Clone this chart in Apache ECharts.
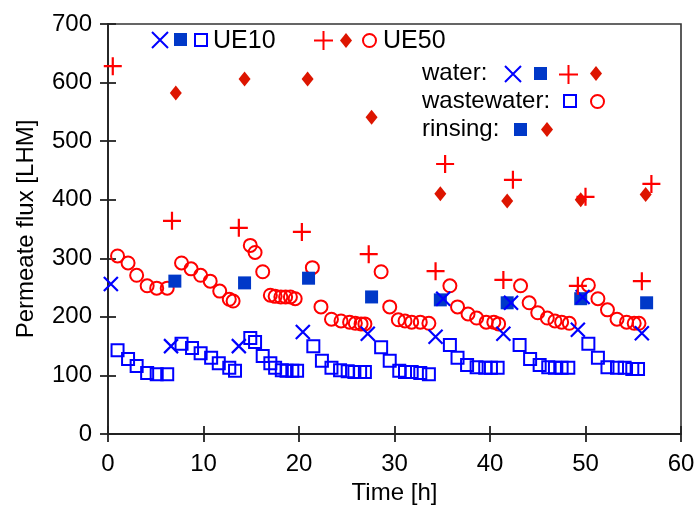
<!DOCTYPE html>
<html><head><meta charset="utf-8">
<script src="https://cdn.jsdelivr.net/npm/echarts@6/dist/echarts.min.js"></script>
<style>html,body{margin:0;padding:0;background:#fff}#c{width:695px;height:505px}</style>
</head><body><div id="c"></div>
<script>
// ---- data ----
var xTicks = [0, 10, 20, 30, 40, 50, 60];
var yTicks = [0, 100, 200, 300, 400, 500, 600, 700];

// UE10 water (x marks)
var ue10WaterT = [0.3, 6.6, 13.7, 20.4, 27.2, 34.3, 35.1, 41.4, 42.2, 49.2, 49.7, 55.9];
var ue10WaterF = [256, 150, 150, 174, 171, 166, 231, 171, 224, 178, 234, 172];
// UE10 rinsing (filled squares)
var ue10RinseT = [7.0, 14.3, 21.0, 27.6, 34.8, 41.8, 49.5, 56.4];
var ue10RinseF = [261, 258, 266, 234, 229, 224, 231, 224];
// UE10 wastewater (open squares)
var ue10WasteT = [1.0, 2.1, 3.0, 4.1, 5.1, 6.2,
  7.7, 8.8, 9.7, 10.8, 11.6, 12.7, 13.3,
  14.9, 15.4, 16.2, 17.0, 17.5, 18.2, 18.7, 19.3, 19.8,
  21.5, 22.4, 23.4, 24.3, 25.1, 25.8, 26.4, 26.9,
  28.6, 29.5, 30.5, 31.1, 31.8, 32.7, 33.6,
  35.8, 36.6, 37.6, 38.6, 39.5, 40.1, 40.8,
  43.1, 44.2, 45.2, 46.1, 46.8, 47.5, 48.2,
  50.3, 51.3, 52.3, 53.3, 54.1, 54.9, 55.5];
var ue10WasteF = [143, 128, 116, 104, 102, 102,
  154, 147, 138, 130, 121, 113, 108,
  164, 157, 133, 121, 113, 109, 108, 108, 108,
  150, 125, 113, 109, 107, 106, 106, 106,
  148, 125, 108, 106, 106, 104, 102,
  152, 130, 118, 114, 113, 113, 113,
  152, 128, 118, 114, 113, 113, 113,
  154, 130, 114, 113, 113, 111, 111];

// UE50 water (plus marks)
var ue50WaterT = [0.5, 6.7, 13.7, 20.3, 27.3, 34.3, 35.3, 41.4, 42.4, 49.2, 50.0, 55.9, 56.9];
var ue50WaterF = [628, 364, 352, 345, 307, 278, 461, 263, 434, 253, 405, 261, 427];
// UE50 rinsing (diamonds)
var ue50RinseT = [7.1, 14.3, 20.9, 27.6, 34.8, 41.8, 49.5, 56.3];
var ue50RinseF = [582, 606, 606, 541, 410, 398, 400, 409];
// UE50 wastewater (open circles)
var ue50WasteT = [1.0, 2.1, 3.0, 4.1, 5.1, 6.2,
  7.7, 8.7, 9.7, 10.7, 11.7, 12.7, 13.1,
  14.9, 15.4, 16.2, 17.0, 17.5, 18.1, 18.6, 19.1, 19.6,
  21.4, 22.3, 23.4, 24.4, 25.3, 25.9, 26.5, 26.9,
  28.6, 29.5, 30.4, 31.1, 31.8, 32.7, 33.6,
  35.8, 36.6, 37.7, 38.6, 39.6, 40.4, 40.9,
  43.2, 44.1, 45.0, 46.0, 46.8, 47.5, 48.3,
  50.3, 51.3, 52.3, 53.3, 54.3, 55.1, 55.6];
var ue50WasteF = [304, 292, 271, 253, 249, 249,
  292, 282, 271, 261, 244, 230, 227,
  322, 310, 277, 237, 235, 234, 234, 234, 231,
  284, 217, 196, 193, 191, 189, 188, 188,
  277, 217, 195, 193, 191, 191, 189,
  253, 217, 205, 198, 191, 191, 188,
  253, 224, 207, 198, 193, 191, 189,
  254, 231, 212, 196, 191, 189, 189];

// ---- styling ----
var FONT = 'Liberation Sans, Arial, sans-serif';
var BLUE = '#0000ff', DBLUE = '#0038c8', RED = '#ff0000', DRED = '#dd1500';
var X_PATH = 'path://M0,0L10,10M10,0L0,10';
var PLUS_PATH = 'path://M5,0L5,10M0,5L10,5';

function zip(a, b) { return a.map(function (v, i) { return [v, b[i]]; }); }

var N = {
  ue10w: 'UE10 water', ue10r: 'UE10 rinsing', ue10s: 'UE10 wastewater',
  ue50w: 'UE50 water', ue50r: 'UE50 rinsing', ue50s: 'UE50 wastewater'
};

var series = [
  { name: N.ue10s, type: 'scatter', data: zip(ue10WasteT, ue10WasteF), symbol: 'rect', symbolSize: 12,
    itemStyle: { color: 'rgba(0,0,0,0)', borderColor: BLUE, borderWidth: 2, opacity: 1 } },
  { name: N.ue50s, type: 'scatter', data: zip(ue50WasteT, ue50WasteF), symbol: 'circle', symbolSize: 13,
    itemStyle: { color: 'rgba(0,0,0,0)', borderColor: RED, borderWidth: 2, opacity: 1 } },
  { name: N.ue10r, type: 'scatter', data: zip(ue10RinseT, ue10RinseF), symbol: 'rect', symbolSize: 13,
    itemStyle: { color: DBLUE, opacity: 1 } },
  { name: N.ue50r, type: 'scatter', data: zip(ue50RinseT, ue50RinseF), symbol: 'diamond', symbolSize: [12, 15],
    itemStyle: { color: DRED, opacity: 1 } },
  { name: N.ue10w, type: 'scatter', data: zip(ue10WaterT, ue10WaterF), symbol: X_PATH, symbolSize: 14,
    itemStyle: { color: 'rgba(0,0,0,0)', borderColor: BLUE, borderWidth: 2.2, opacity: 1 } },
  { name: N.ue50w, type: 'scatter', data: zip(ue50WaterT, ue50WaterF), symbol: PLUS_PATH, symbolSize: 18,
    itemStyle: { color: 'rgba(0,0,0,0)', borderColor: RED, borderWidth: 2.2, opacity: 1 } }
];
series.forEach(function (s) { s.emphasis = { disabled: true }; s.silent = true; s.animation = false; });

function icon(name, left, top, w, h) {
  return { show: true, selectedMode: false, data: [name], left: left, top: top, padding: 0,
    itemWidth: w, itemHeight: h, itemGap: 0, formatter: function () { return ''; },
    textStyle: { fontSize: 1 } };
}

var legends = [
  icon(N.ue10w, 151, 31, 16, 16),
  icon(N.ue10r, 174, 33, 13, 13),
  icon(N.ue10s, 194, 33, 12, 12),
  icon(N.ue50w, 313, 30, 19, 19),
  icon(N.ue50r, 340, 33, 12, 15),
  icon(N.ue50s, 362, 33, 13, 13),
  // water:
  icon(N.ue10w, 504, 65, 16, 16),
  icon(N.ue10r, 534, 67, 13, 13),
  icon(N.ue50w, 558, 64, 19, 19),
  icon(N.ue50r, 590, 66, 12, 15),
  // wastewater:
  icon(N.ue10s, 563, 94, 12, 12),
  icon(N.ue50s, 590, 94, 13, 13),
  // rinsing:
  icon(N.ue10r, 514, 123, 13, 13),
  icon(N.ue50r, 541, 122, 12, 15)
];

function label(text, x, y, size) {
  return { type: 'text', x: x, y: y, silent: true,
    style: { text: text, fill: '#000', font: size + 'px ' + FONT, verticalAlign: 'middle', align: 'left' } };
}

var axisLineStyle = { color: '#222', width: 1.8 };
var option = {
  animation: false,
  backgroundColor: '#fff',
  grid: { left: 108, right: 14, top: 24, bottom: 71, show: true, borderColor: '#333', borderWidth: 1.6,
    backgroundColor: 'rgba(0,0,0,0)', containLabel: false, outerBoundsMode: 'none' },
  xAxis: [
    { type: 'value', min: xTicks[0], max: xTicks[xTicks.length - 1], interval: 10, position: 'bottom',
      name: 'Time [h]', nameLocation: 'middle', nameGap: 45,
      nameTextStyle: { fontSize: 24, fontFamily: FONT, color: '#000' },
      axisLine: { show: true, onZero: false, lineStyle: axisLineStyle },
      axisTick: { show: true, inside: false, length: 8, lineStyle: axisLineStyle },
      axisLabel: { fontSize: 24, fontFamily: FONT, color: '#000', margin: 18 },
      splitLine: { show: false } },
    { type: 'value', min: xTicks[0], max: xTicks[xTicks.length - 1], interval: 10, position: 'bottom',
      axisLine: { show: false }, axisTick: { show: true, inside: true, length: 8, lineStyle: axisLineStyle },
      axisLabel: { show: false }, splitLine: { show: false } }
  ],
  yAxis: [
    { type: 'value', min: yTicks[0], max: yTicks[yTicks.length - 1], interval: 100, position: 'left',
      name: 'Permeate flux [LHM]', nameLocation: 'middle', nameGap: 70, nameRotate: 90,
      nameTextStyle: { fontSize: 24, fontFamily: FONT, color: '#000' },
      axisLine: { show: true, onZero: false, lineStyle: axisLineStyle },
      axisTick: { show: true, inside: false, length: 8, lineStyle: axisLineStyle },
      axisLabel: { fontSize: 24, fontFamily: FONT, color: '#000', margin: 16 },
      splitLine: { show: false } },
    { type: 'value', min: yTicks[0], max: yTicks[yTicks.length - 1], interval: 100, position: 'left',
      axisLine: { show: false }, axisTick: { show: true, inside: true, length: 8, lineStyle: axisLineStyle },
      axisLabel: { show: false }, splitLine: { show: false } }
  ],
  legend: legends,
  graphic: [
    label('UE10', 213, 41, 25),
    label('UE50', 383, 41, 25),
    label('water:', 422, 73, 24),
    label('wastewater:', 422, 101, 24),
    label('rinsing:', 422, 129, 24)
  ],
  series: series
};

var chart = echarts.init(document.getElementById('c'), null, { renderer: 'canvas' });
chart.setOption(option);
</script>
</body></html>
